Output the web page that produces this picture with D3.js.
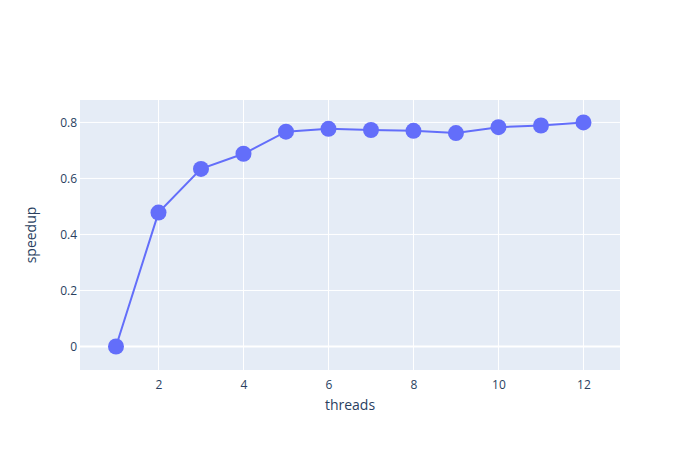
<!DOCTYPE html>
<html><head><meta charset="utf-8">
<script src="https://cdn.jsdelivr.net/npm/d3@7"></script>
<style>body{margin:0;background:#fff}svg{display:block}text{font-family:"Open Sans",Verdana,Arial,sans-serif}</style>
</head><body>
<svg id="c" width="700" height="450"></svg>
<script>
const threads = [1,2,3,4,5,6,7,8,9,10,11,12];
const speedup = [0,0.478,0.634,0.688,0.767,0.777,0.773,0.770,0.762,0.783,0.789,0.800];
const xTicks = [2,4,6,8,10,12];
const yTicks = [0,0.2,0.4,0.6,0.8];
const xLabel = "threads", yLabel = "speedup";

const W=700,H=450,m={l:80,r:80,t:100,b:80};
const svg=d3.select("#c");
const x=d3.scaleLinear().domain([0.153,12.86]).range([m.l,W-m.r]);
const y=d3.scaleLinear().domain([-0.084,0.880]).range([H-m.b,m.t]);
const txt="#2a3f5f";

svg.append("rect").attr("x",m.l).attr("y",m.t).attr("width",W-m.l-m.r).attr("height",H-m.t-m.b).attr("fill","#e5ecf6");

const gx=svg.append("g").attr("transform",`translate(0,${H-m.b})`)
  .call(d3.axisBottom(x).tickValues(xTicks).tickSize(0).tickPadding(10).tickFormat(d3.format("d")));
gx.select(".domain").remove();
gx.selectAll("text").attr("fill",txt).style("font-size","12px");
svg.append("g").selectAll("line").data(xTicks).join("line")
  .attr("x1",d=>x(d)).attr("x2",d=>x(d)).attr("y1",m.t).attr("y2",H-m.b)
  .attr("stroke","#fff").attr("stroke-width",1);

const gy=svg.append("g").attr("transform",`translate(${m.l},0)`)
  .call(d3.axisLeft(y).tickValues(yTicks).tickSize(0).tickPadding(3).tickFormat(d=>d===0?"0":d3.format(".1f")(d)));
gy.select(".domain").remove();
gy.selectAll("text").attr("fill",txt).style("font-size","12px");
svg.append("g").selectAll("line").data(yTicks).join("line")
  .attr("x1",m.l).attr("x2",W-m.r).attr("y1",d=>y(d)).attr("y2",d=>y(d))
  .attr("stroke","#fff").attr("stroke-width",d=>d===0?2:1);

const pts=threads.map((t,i)=>[t,speedup[i]]);
svg.append("path").datum(pts).attr("fill","none").attr("stroke","#636efa").attr("stroke-width",2)
  .attr("d",d3.line().x(d=>x(d[0])).y(d=>y(d[1])));
svg.append("g").selectAll("circle").data(pts).join("circle")
  .attr("cx",d=>x(d[0])).attr("cy",d=>y(d[1])).attr("r",8).attr("fill","#636efa");

svg.append("text").attr("x",(m.l+W-m.r)/2).attr("y",410).attr("text-anchor","middle")
  .attr("fill",txt).style("font-size","14px").text(xLabel);
svg.append("text").attr("transform",`translate(36,${(m.t+H-m.b)/2}) rotate(-90)`).attr("text-anchor","middle")
  .attr("fill",txt).style("font-size","14px").text(yLabel);
</script>
</body></html>
